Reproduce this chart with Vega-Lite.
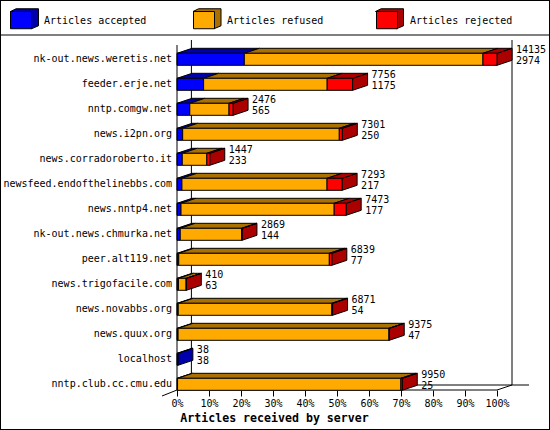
{"$schema":"https://vega.github.io/schema/vega-lite/v6.json","width":550,"height":430,"padding":0,"autosize":{"type":"none"},"background":"white",
"config":{"view":{"stroke":"black","strokeWidth":2},"font":"DejaVu Sans Mono","text":{"font":"DejaVu Sans Mono","fontSize":10,"color":"black"},"rule":{"color":"black","strokeWidth":1}},
"data":{"values":[
{"host":"nk-out.news.weretis.net","total":14135,"accepted":2974,"refused":10541,"rejected":620},
{"host":"feeder.erje.net","total":7756,"accepted":1175,"refused":5459,"rejected":1122},
{"host":"nntp.comgw.net","total":2476,"accepted":565,"refused":1734,"rejected":177},
{"host":"news.i2pn.org","total":7301,"accepted":250,"refused":6919,"rejected":132},
{"host":"news.corradoroberto.it","total":1447,"accepted":233,"refused":1084,"rejected":130},
{"host":"newsfeed.endofthelinebbs.com","total":7293,"accepted":217,"refused":6411,"rejected":665},
{"host":"news.nntp4.net","total":7473,"accepted":177,"refused":6766,"rejected":530},
{"host":"nk-out.news.chmurka.net","total":2869,"accepted":144,"refused":2715,"rejected":10},
{"host":"peer.alt119.net","total":6839,"accepted":77,"refused":6652,"rejected":110},
{"host":"news.trigofacile.com","total":410,"accepted":63,"refused":342,"rejected":5},
{"host":"news.novabbs.org","total":6871,"accepted":54,"refused":6787,"rejected":30},
{"host":"news.quux.org","total":9375,"accepted":47,"refused":9318,"rejected":10},
{"host":"localhost","total":38,"accepted":38,"refused":0,"rejected":0},
{"host":"nntp.club.cc.cmu.edu","total":9950,"accepted":25,"refused":9865,"rejected":60}
]},
"transform":[
{"window":[{"op":"row_number","as":"rn"}]},
{"calculate":"datum.rn-1","as":"row"},
{"fold":["accepted","refused","rejected"],"as":["key","count"]},
{"stack":"count","groupby":["host"],"sort":[{"field":"key","order":"ascending"}],"as":["s0","s1"]},
{"calculate":"datum.s0/14135*100","as":"x0"},
{"calculate":"datum.s1/14135*100","as":"x1"},
{"calculate":"datum.row-0.24","as":"top"},
{"calculate":"datum.row+0.24","as":"bot"},
{"calculate":"datum.total/14135*100","as":"pct"},
{"calculate":"datum.key+' shade'","as":"shade"}
],
"layer":[
{"data":{"values":[{"part":"floorfront"}]},"mark":{"type":"rule"},"encoding":{"x":{"datum":0,"type":"quantitative","scale":{"domain":[-55.3125,116.5625],"nice":false,"zero":false},"axis":{"values":[0,10,20,30,40,50,60,70,80,90,100],"labelExpr":"datum.value+'%'","offset":-40,"domain":false,"grid":false,"tickSize":6,"tickColor":"black","labelColor":"black","labelFont":"DejaVu Sans Mono","labelFontSize":10,"labelPadding":2,"labelFlush":false,"labelOverlap":false,"title":"Articles received by server","titleFont":"DejaVu Sans Mono","titleFontSize":11.6,"titleFontWeight":"bold","titleColor":"black","titleX":274,"titleY":22,"titleAlign":"center"}},"x2":{"datum":100},"y":{"datum":13.228,"type":"quantitative","scale":{"domain":[-2.372,14.828],"reverse":true,"nice":false,"zero":false},"axis":null}}},
{"data":{"values":[{"part":"separator"}]},"mark":{"type":"rule"},"encoding":{"x":{"datum":-55.3125,"type":"quantitative","scale":{"domain":[-55.3125,116.5625],"nice":false,"zero":false}},"x2":{"datum":116.5625},"y":{"datum":-0.972,"type":"quantitative","scale":{"domain":[-2.372,14.828],"reverse":true,"nice":false,"zero":false},"axis":null}}},
{"data":{"values":[{"part":"backwall"}]},"mark":{"type":"rule"},"encoding":{"x":{"datum":4.5,"type":"quantitative","scale":{"domain":[-55.3125,116.5625],"nice":false,"zero":false}},"y":{"datum":-0.772,"type":"quantitative","scale":{"domain":[-2.372,14.828],"reverse":true,"nice":false,"zero":false},"axis":null},"y2":{"datum":13.028}}},
{"data":{"values":[{"part":"rightwall"}]},"mark":{"type":"rule"},"encoding":{"x":{"datum":104.6875,"type":"quantitative","scale":{"domain":[-55.3125,116.5625],"nice":false,"zero":false}},"y":{"datum":-0.772,"type":"quantitative","scale":{"domain":[-2.372,14.828],"reverse":true,"nice":false,"zero":false},"axis":null},"y2":{"datum":13.028}}},
{"data":{"values":[{"part":"floorback"}]},"mark":{"type":"rule"},"encoding":{"x":{"datum":4.5,"type":"quantitative","scale":{"domain":[-55.3125,116.5625],"nice":false,"zero":false}},"x2":{"datum":110},"y":{"datum":13.028,"type":"quantitative","scale":{"domain":[-2.372,14.828],"reverse":true,"nice":false,"zero":false},"axis":null}}},
{"data":{"values":[{"part":"floorright"}]},"mark":{"type":"rule"},"encoding":{"x":{"datum":100,"type":"quantitative","scale":{"domain":[-55.3125,116.5625],"nice":false,"zero":false}},"x2":{"datum":104.6875},"y":{"datum":13.228,"type":"quantitative","scale":{"domain":[-2.372,14.828],"reverse":true,"nice":false,"zero":false},"axis":null},"y2":{"datum":13.028}}},
{"data":{"values":[{"part":"floorleft"}]},"mark":{"type":"rule"},"encoding":{"x":{"datum":-4.6875,"type":"quantitative","scale":{"domain":[-55.3125,116.5625],"nice":false,"zero":false}},"x2":{"datum":0},"y":{"datum":13.468,"type":"quantitative","scale":{"domain":[-2.372,14.828],"reverse":true,"nice":false,"zero":false},"axis":null},"y2":{"datum":13.228}}},
{"transform":[{"filter":"datum.count>0 && datum.s1>=datum.total"},{"calculate":"[0,1]","as":"c"},{"flatten":["c"]},{"calculate":"datum.x1+4.6875*datum.c","as":"sx"},{"calculate":"datum.bot-0.2*datum.c","as":"sy"},{"calculate":"datum.top-0.2*datum.c","as":"sy2"}],
"mark":{"type":"area","orient":"vertical","stroke":"black","strokeWidth":1,"interpolate":"linear"},
"encoding":{"x":{"field":"sx","type":"quantitative","scale":{"domain":[-55.3125,116.5625],"nice":false,"zero":false}},"y":{"field":"sy","type":"quantitative","scale":{"domain":[-2.372,14.828],"reverse":true,"nice":false,"zero":false},"axis":null},"y2":{"field":"sy2"},"detail":{"field":"host"},
"color":{"field":"shade","type":"nominal","scale":{"domain":["accepted shade","refused shade","rejected shade"],"range":["#0000aa","#aa7100","#aa0000"]},
"legend":{"orient":"none","legendX":10,"legendY":6,"direction":"horizontal","columns":3,"title":null,"padding":0,"columnPadding":145.5,"labelOffset":6,"labelExpr":"''","gridAlign":"all","symbolSize":784,"symbolStrokeColor":"black","symbolStrokeWidth":1,"symbolType":"M-1,-0.66L-0.6,-0.857L1,-0.857L1,0.36L0.5,0.57L0.5,-0.66Z"}}}},
{"transform":[{"filter":"datum.count>0"},{"calculate":"[0,1]","as":"c"},{"flatten":["c"]},{"calculate":"datum.x0+4.6875*datum.c","as":"ta"},{"calculate":"datum.x1+4.6875*datum.c","as":"tb"},{"calculate":"datum.top-0.2*datum.c","as":"ty"}],
"mark":{"type":"area","orient":"horizontal","stroke":"black","strokeWidth":1,"interpolate":"linear"},
"encoding":{"x":{"field":"ta","type":"quantitative","scale":{"domain":[-55.3125,116.5625],"nice":false,"zero":false}},"x2":{"field":"tb"},"y":{"field":"ty","type":"quantitative","scale":{"domain":[-2.372,14.828],"reverse":true,"nice":false,"zero":false},"axis":null},"detail":{"field":"host"},
"color":{"field":"shade","type":"nominal"}}},
{"transform":[{"filter":"datum.count>0"}],"mark":{"type":"rect","stroke":"black","strokeWidth":1},
"encoding":{"x":{"field":"x0","type":"quantitative","scale":{"domain":[-55.3125,116.5625],"nice":false,"zero":false}},"x2":{"field":"x1"},"y":{"field":"top","type":"quantitative","scale":{"domain":[-2.372,14.828],"reverse":true,"nice":false,"zero":false},"axis":null},"y2":{"field":"bot"},
"fill":{"field":"key","type":"nominal","scale":{"domain":["accepted","refused","rejected"],"range":["#0000ff","#ffaa00","#ff0000"]},
"legend":{"orient":"none","legendX":10,"legendY":6,"direction":"horizontal","columns":3,"title":null,"padding":0,"columnPadding":44,"labelOffset":5,"labelExpr":"'Articles '+datum.label","gridAlign":"all","labelFont":"DejaVu Sans Mono","labelFontSize":10,"labelColor":"black","symbolSize":784,"symbolStrokeColor":"black","symbolStrokeWidth":1,"symbolType":"M-1,-0.66L0.5,-0.66L0.5,0.57L-1,0.57Z"}}}},
{"data":{"values":[{"part":"yaxisline"}]},"mark":{"type":"rule"},"encoding":{"x":{"datum":0,"type":"quantitative","scale":{"domain":[-55.3125,116.5625],"nice":false,"zero":false}},"y":{"datum":-0.572,"type":"quantitative","scale":{"domain":[-2.372,14.828],"reverse":true,"nice":false,"zero":false},"axis":null},"y2":{"datum":13.228}}},
{"transform":[{"filter":"datum.key==='accepted'"}],"mark":{"type":"text","align":"right","baseline":"middle","dx":-5},"encoding":{"x":{"datum":0,"type":"quantitative","scale":{"domain":[-55.3125,116.5625],"nice":false,"zero":false}},"y":{"field":"row","type":"quantitative","scale":{"domain":[-2.372,14.828],"reverse":true,"nice":false,"zero":false},"axis":null},"text":{"field":"host"}}},
{"transform":[{"filter":"datum.key==='accepted'"}],"mark":{"type":"text","align":"left","baseline":"middle","dx":19,"dy":-9},"encoding":{"x":{"field":"pct","type":"quantitative","scale":{"domain":[-55.3125,116.5625],"nice":false,"zero":false}},"y":{"field":"row","type":"quantitative","scale":{"domain":[-2.372,14.828],"reverse":true,"nice":false,"zero":false},"axis":null},"text":{"field":"total"}}},
{"transform":[{"filter":"datum.key==='accepted'"}],"mark":{"type":"text","align":"left","baseline":"middle","dx":19,"dy":2},"encoding":{"x":{"field":"pct","type":"quantitative","scale":{"domain":[-55.3125,116.5625],"nice":false,"zero":false}},"y":{"field":"row","type":"quantitative","scale":{"domain":[-2.372,14.828],"reverse":true,"nice":false,"zero":false},"axis":null},"text":{"field":"accepted"}}}
]}
